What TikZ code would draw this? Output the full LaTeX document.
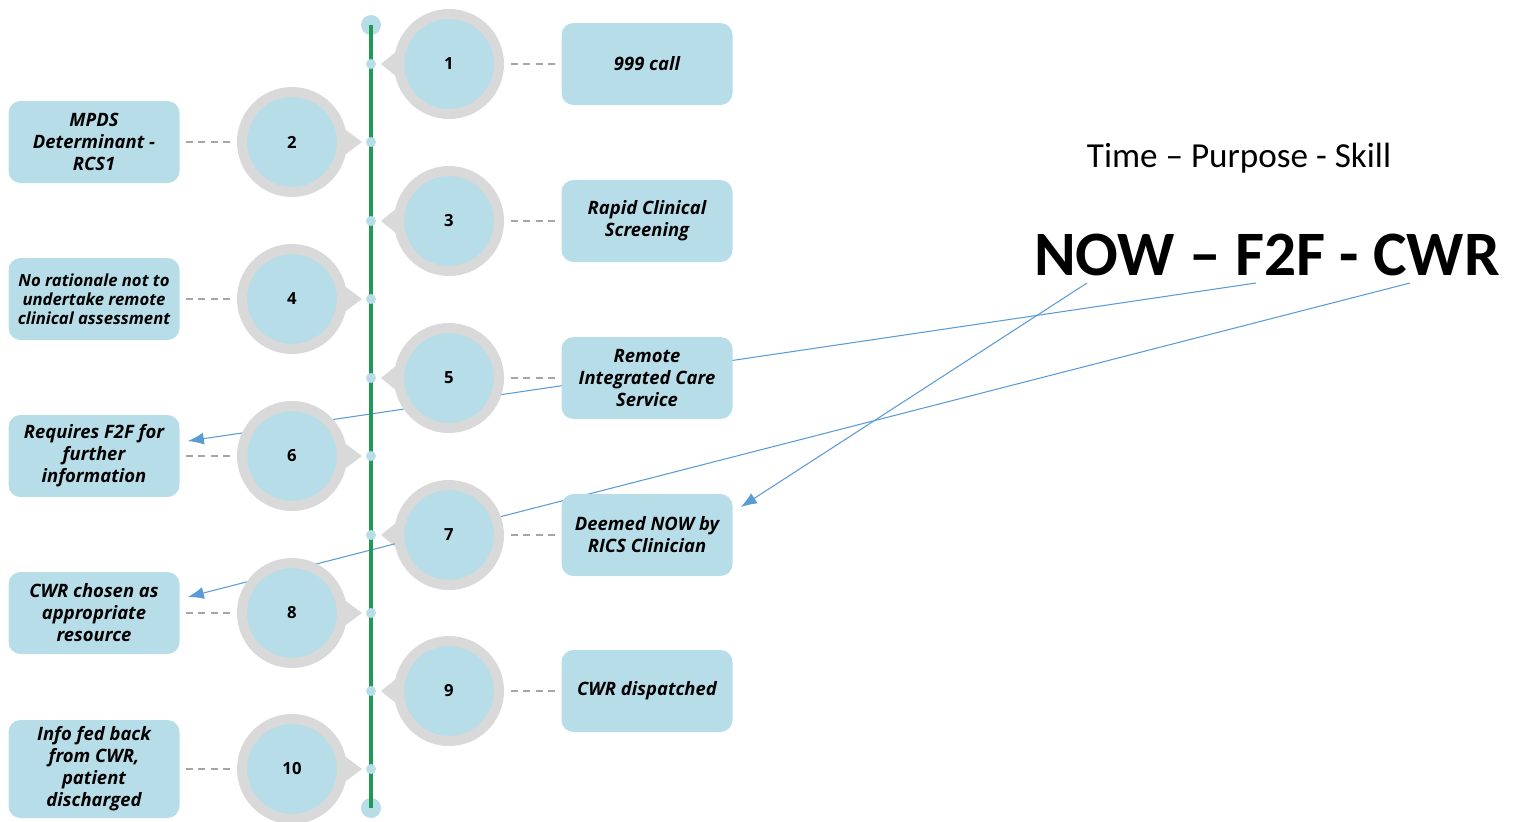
\documentclass[tikz,border=0pt]{standalone}
\usepackage{fontspec}
\setmainfont{Open Sans}
\newfontfamily\calfont{Carlito}
\usetikzlibrary{arrows.meta,positioning,calc,backgrounds}
\definecolor{StepBlue}{HTML}{B7DEE8}
\definecolor{RingGray}{HTML}{D9D9D9}
\definecolor{RailGreen}{HTML}{1F9A55}
\definecolor{DashGray}{HTML}{A6A6A6}
\definecolor{LinkBlue}{HTML}{5B9BD5}

\begin{document}
\begin{tikzpicture}[
      stepnode/.style={circle,fill=StepBlue,draw=RingGray,line width=0.2cm,
                       minimum size=2cm,inner sep=0pt,
                       font=\bfseries\fontsize{9.5}{11}\selectfont},
      card/.style={fill=StepBlue,rounded corners=0.24cm,minimum width=3.42cm,
                   minimum height=1.64cm,align=center,inner sep=2pt,
                   font=\bfseries\itshape\fontsize{10.5}{12.5}\selectfont},
      tie/.style={draw=DashGray,line width=1.1pt,dash pattern=on 4pt off 3pt,
                  shorten <=4pt,shorten >=2pt},
      link/.style={-{Latex[length=3.2mm,width=2.4mm]},draw=LinkBlue,line width=0.6pt}]
    \useasboundingbox (0,0) rectangle (30.26,-16.42);

    % timeline
    \coordinate (railtop) at (7.42,-0.50);
    \coordinate (railbot) at (7.42,-16.16);
    \fill[StepBlue] (railtop) circle (0.2);
    \fill[StepBlue] (railbot) circle (0.2);
    \draw[RailGreen,line width=2pt] (railtop) -- (railbot);

    % steps to the right of the rail
    \node[stepnode] (s1) at (8.98,-1.28) {1};
    \node[stepnode] (s3) at (8.98,-4.42) {3};
    \node[stepnode] (s5) at (8.98,-7.56) {5};
    \node[stepnode] (s7) at (8.98,-10.70) {7};
    \node[stepnode] (s9) at (8.98,-13.82) {9};
    \node[card] (b1) at (12.94,-1.28) {999 call};
    \node[card] (b3) at (12.94,-4.42) {Rapid Clinical\\Screening};
    \node[card] (b5) at (12.94,-7.56) {Remote\\Integrated Care\\Service};
    \node[card] (b7) at (12.94,-10.70) {Deemed NOW by\\RICS Clinician};
    \node[card] (b9) at (12.94,-13.82) {CWR dispatched};

    % steps to the left of the rail
    \node[stepnode] (s2) at (5.84,-2.84) {2};
    \node[stepnode] (s4) at (5.84,-5.98) {4};
    \node[stepnode] (s6) at (5.84,-9.12) {6};
    \node[stepnode] (s8) at (5.84,-12.26) {8};
    \node[stepnode] (s10) at (5.84,-15.38) {10};
    \node[card] (b2) at (1.88,-2.84) {MPDS\\Determinant -\\RCS1};
    \node[card,font=\bfseries\itshape\fontsize{9.5}{10.8}\selectfont] (b4) at (1.88,-5.98)
      {No rationale not to\\undertake remote\\clinical assessment};
    \node[card] (b6) at (1.88,-9.12) {Requires F2F for\\further\\information};
    \node[card] (b8) at (1.88,-12.26) {CWR chosen as\\appropriate\\resource};
    \node[card,minimum height=1.96cm] (b10) at (1.88,-15.38)
      {Info fed back\\from CWR,\\patient\\discharged};

    \foreach \s in {1,...,10} {
      \draw[tie] (s\s) -- (b\s);
      \fill[StepBlue] (s\s -| railtop) circle (0.1);
    }

    % Time - Purpose - Skill
    \node[font=\calfont\fontsize{20}{24}\selectfont,anchor=base] (tps) at (24.78,-3.34)
      {Time – Purpose - Skill};
    \node[font=\calfont\bfseries\fontsize{36}{42}\selectfont,anchor=base] (head) at (25.34,-5.50)
      {NOW – F2F - CWR};
    \coordinate (nowfoot) at (21.74,-5.66);
    \coordinate (f2ffoot) at (25.12,-5.66);
    \coordinate (cwrfoot) at (28.20,-5.66);

    \begin{scope}[on background layer]
      \foreach \s in {s1,s3,s5,s7,s9}
        \fill[RingGray] ($(\s)+(160:1)$) -- ($(\s)+(-1.36,0)$) -- ($(\s)+(200:1)$) -- cycle;
      \foreach \s in {s2,s4,s6,s8,s10}
        \fill[RingGray] ($(\s)+(20:1)$) -- ($(\s)+(1.40,0)$) -- ($(\s)+(-20:1)$) -- cycle;
      \draw[link] (f2ffoot) -- ($(b6.east)+(0.16,0.30)$);
      \draw[link] (cwrfoot) -- ($(b8.east)+(0.16,0.32)$);
      \draw[link] (nowfoot) -- ($(b7.east)+(0.16,0.56)$);
    \end{scope}
  \end{tikzpicture}
\end{document}
